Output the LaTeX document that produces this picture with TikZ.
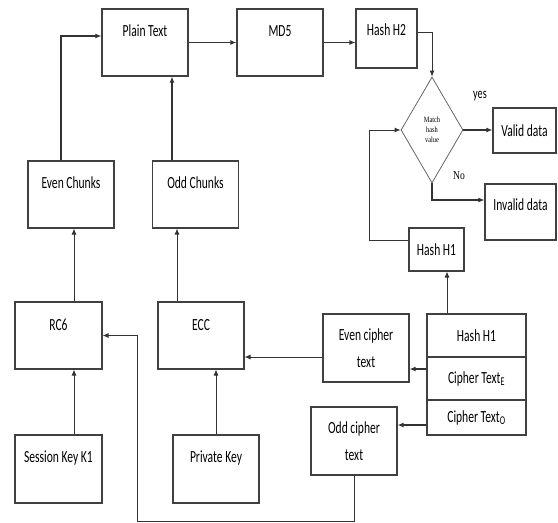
\documentclass[tikz,border=0pt]{standalone}
\usepackage{fontspec}
\newfontfamily\boxfont[FakeStretch=0.68]{Carlito}
\newfontfamily\serfont[FakeStretch=0.8]{Liberation Serif}
\usepackage{tikz}
\usetikzlibrary{shapes.geometric, arrows.meta}
\tikzset{
  block/.style     = {rectangle, draw=black!75, line width=1.1pt, fill=white,
                      inner sep=0pt, font=\boxfont\fontsize{17}{20}\selectfont,
                      align=center},            % plain boxes
  topbox/.style    = {block, text depth=#1},      % text pushed to the top
  decision/.style  = {diamond, draw=black!60, line width=0.8pt, aspect=0.585,
                      inner sep=0pt, font=\serfont\fontsize{8}{8}\selectfont,
                      align=center},
  arrow/.style     = {-{Latex[length=6pt,width=5pt]}, draw=black!80, line width=0.9pt},
  thickarrow/.style= {arrow, line width=1.6pt}
}

\begin{document}
\begin{tikzpicture}[x=1pt, y=-1pt]
  \useasboundingbox (0,0) rectangle (558,523);

  % top row
  \node[topbox=23pt, minimum width=86pt, minimum height=67pt] (plain) at (145,42.5) {Plain Text};
  \node[topbox=22pt, minimum width=86pt, minimum height=67pt] (md5) at (280,42.5) {MD5};
  \node[topbox=17pt, minimum width=61pt, minimum height=59pt] (h2) at (386.5,38.5) {Hash H2};

  % hash check
  \node[decision, minimum width=62pt, minimum height=106pt] (match) at (432,130) {Match\\[2pt]hash\\[2pt]value};
  \node[block, minimum width=63pt, minimum height=45pt] (valid) at (524.5,130.5) {Valid data};
  \node[topbox=14pt, minimum width=71pt, minimum height=56pt] (invalid) at (520.5,212) {Invalid data};
  \node[block, minimum width=55pt, minimum height=43pt] (h1top) at (436.5,249.5) {Hash H1};
  \node[font=\boxfont\fontsize{15}{17}\selectfont] (yes) at (480,96) {yes};
  \node[font=\serfont\fontsize{12}{13}\selectfont] (no) at (459,176) {No};

  % chunks
  \node[topbox=23pt, minimum width=86pt, minimum height=67pt] (evench) at (71,194.5) {Even Chunks};
  \node[topbox=23pt, minimum width=86pt, minimum height=67pt] (oddch) at (195.5,194.5) {Odd Chunks};

  % decryption
  \node[topbox=22pt, minimum width=87pt, minimum height=67pt] (rc6) at (58.5,335.5) {RC6};
  \node[topbox=22pt, minimum width=86pt, minimum height=67pt] (ecc) at (201,335.5) {ECC};
  \node[topbox=24pt, minimum width=87pt, minimum height=68pt] (sk) at (58.5,469) {Session Key K1};
  \node[topbox=24pt, minimum width=86pt, minimum height=68pt] (pk) at (216,469) {Private Key};

  % cipher texts
  \node[block, minimum width=86pt, minimum height=68pt] (evenct) at (366,348) {Even cipher\\[7pt]text};
  \node[block, minimum width=86pt, minimum height=68pt] (oddct) at (354,441) {Odd cipher\\[7pt]text};

  % received packet
  \node[block, minimum width=99pt, minimum height=43pt] (hash1b) at (476.5,335.5) {Hash H1};
  \node[block, minimum width=99pt, minimum height=43pt] (ctE) at (476.5,378.5) {Cipher Text\textsubscript{E}};
  \node[block, minimum width=99pt, minimum height=35pt] (ctO) at (476.5,417.5) {Cipher Text\textsubscript{O}};

  \coordinate (loop) at (137,521);

  % connectors
  \draw[thickarrow] ([xshift=-10pt]evench.north) |- ([yshift=6.5pt]plain.west);
  \draw[thickarrow] ([xshift=-23.5pt]oddch.north) coordinate (c1) -- (c1 |- plain.south);
  \draw[thickarrow] (plain.east) -- (md5.west);
  \draw[thickarrow] (md5.east) -- (md5.east -| h2.west);
  \draw[arrow] ([yshift=6.5pt]h2.east) -| (match.north);
  \draw[thickarrow] (match.east) -- (match.east -| valid.west);
  \draw[thickarrow] (match.south) |- ([yshift=12pt]invalid.west);
  \draw[arrow] ([yshift=9.5pt]h1top.west) -- ++(-39,0) |- (match.west);
  \draw[arrow] ([xshift=-29.5pt]hash1b.north) coordinate (c2) -- (c2 |- h1top.south);
  \draw[thickarrow] ([yshift=9.5pt]ctE.west) coordinate (c3) -- (c3 -| evenct.east);
  \draw[thickarrow] ([yshift=-7.5pt]ctO.west) coordinate (c4) -- (c4 -| oddct.east);
  \draw[arrow] ([yshift=-9pt]evenct.west) coordinate (c5) -- (c5 -| ecc.east);
  \draw[arrow] ([xshift=15.5pt]sk.north) coordinate (c6) -- (c6 |- rc6.south);
  \draw[arrow] (pk.north) -- (pk.north |- ecc.south);
  \draw[arrow] ([xshift=15.5pt]rc6.north) coordinate (c7) -- (c7 |- evench.south);
  \draw[arrow] ([xshift=-24pt]ecc.north) coordinate (c8) -- (c8 |- oddch.south);
  \draw[arrow] (oddct.south) |- (loop) |- (rc6.east);
\end{tikzpicture}
\end{document}
